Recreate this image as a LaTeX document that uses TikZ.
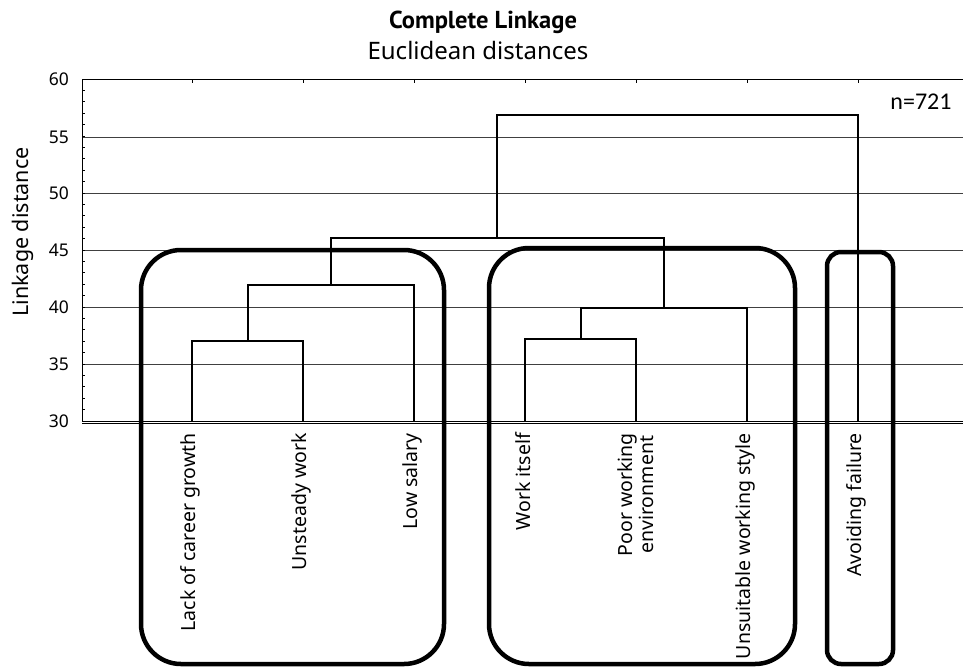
\documentclass[tikz,border=0pt]{standalone}
\usepackage{fontspec}
\setmainfont{Noto Sans}
\newfontfamily\carlito{Carlito}
\newfontfamily\ptbold{PT Sans}
\begin{document}
\begin{tikzpicture}[x=1pt,y=-1pt,
  gridline/.style={draw=black!75,line width=1pt},
  frame/.style={draw=black,line width=1pt},
  dendro/.style={draw=black,line width=2pt},
  groupbox/.style={draw=black,line width=4.5pt,rounded corners=40pt,inner sep=0pt},
  leaflabel/.style={rotate=90,anchor=east,inner sep=0pt,font=\fontsize{19.5}{21}\selectfont,align=center},
  ticklabel/.style={anchor=east,inner sep=0pt,font=\fontsize{17.5}{20}\selectfont}
]
\useasboundingbox (0,0) rectangle (963,667);
\fill[white] (0,0) rectangle (963,667);

% titles
\node[font=\ptbold\bfseries\fontsize{24.5}{26}\selectfont] (title) at (483,22) {Complete Linkage};
\node[font=\fontsize{24}{26}\selectfont] (subtitle) at (478,50) {Euclidean distances};

% gridlines
\foreach \v/\yy in {55/137,50/193.5,45/250,40/307,35/364}
  \draw[gridline] (82,\yy) -- (963,\yy);
% frame
\draw[frame] (963,79) -- (82,79) -- (82,421);
\draw[frame] (82,421) -- (963,421);
\draw[frame] (82,423.5) -- (963,423.5);
% minor ticks on left axis
\foreach \k in {0,...,30}
  \draw[black,line width=0.8pt] (82,{421-\k*11.4}) -- (85,{421-\k*11.4});
% top ticks at leaves
\foreach \xx in {192,303,414,525,636,747,858}
  \draw[black,line width=0.8pt] (\xx,79) -- (\xx,83);

% tick labels
\foreach \v/\yy in {60/79,55/137,50/193.5,45/250,40/307,35/364,30/421}
  \node[ticklabel] (t\v) at (69,\yy) {\v};
\node[rotate=90,font=\fontsize{21.5}{23}\selectfont] (ylabel) at (23,232) {Linkage distance};
\node[font=\carlito\fontsize{24}{26}\selectfont] (n) at (921,102) {n=721};

% leaves
\coordinate (l1) at (192,421);
\coordinate (l2) at (303,421);
\coordinate (l3) at (414,421);
\coordinate (l4) at (525,421);
\coordinate (l5) at (636,421);
\coordinate (l6) at (747,421);
\coordinate (l7) at (858,421);
% merges
\coordinate (m1) at (247.5,341);
\coordinate (m2) at (330.75,285);
\coordinate (m3) at (580.5,339);
\coordinate (m4) at (663.75,308);
\coordinate (m5) at (497.25,238);
\coordinate (m6) at (677.6,115);

\draw[dendro] (l1) |- (m1) -| (l2);
\draw[dendro] (m1) |- (m2) -| (l3);
\draw[dendro] (l4) |- (m3) -| (l5);
\draw[dendro] (m3) |- (m4) -| (l6);
\draw[dendro] (m2) |- (m5) -| (m4);
\draw[dendro] (m5) |- (m6) -| (l7);

% leaf labels
\node[leaflabel] (a1) at (190,433) {Lack of career growth};
\node[leaflabel] (a2) at (301,433) {Unsteady work};
\node[leaflabel] (a3) at (412,433) {Low salary};
\node[leaflabel] (a4) at (523,433) {Work itself};
\node[leaflabel] (a5) at (636,433) {Poor working\\environment};
\node[leaflabel] (a6) at (745,433) {Unsuitable working style};
\node[leaflabel] (a7) at (856,433) {Avoiding failure};

% group boxes
\node[groupbox,minimum width=303pt,minimum height=414pt] (g1) at (292.5,457) {};
\node[groupbox,minimum width=306pt,minimum height=416pt] (g2) at (642,456) {};
\node[groupbox,rounded corners=14pt,minimum width=66pt,minimum height=412pt] (g3) at (860,458) {};
\end{tikzpicture}
\end{document}
